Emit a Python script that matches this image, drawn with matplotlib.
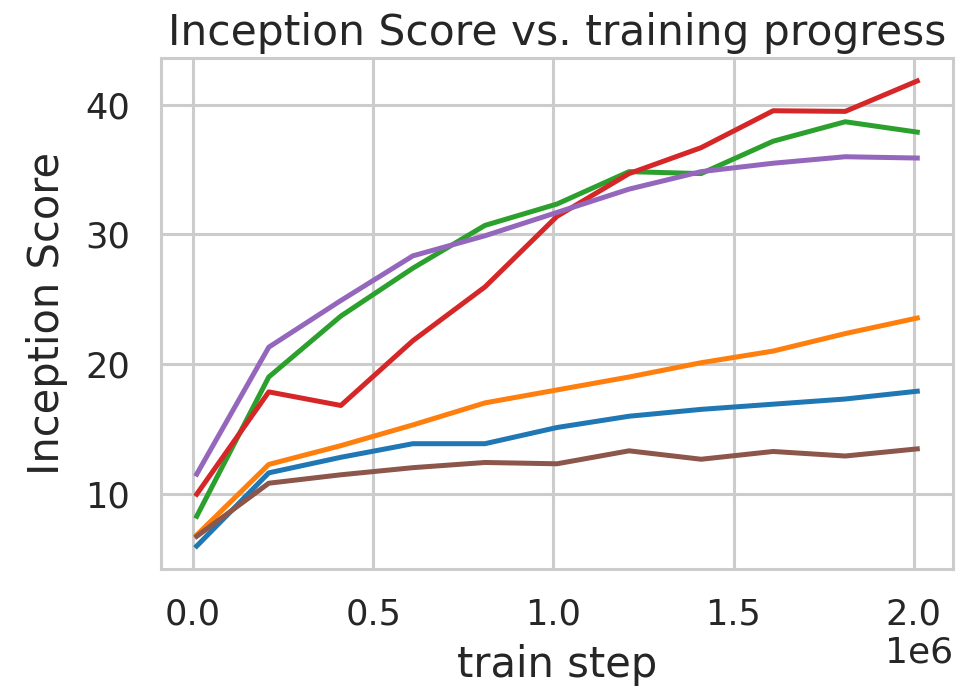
import matplotlib
matplotlib.use("Agg")
import matplotlib.pyplot as plt

# train steps (x) and inception scores per run
steps = [10000, 210000, 410000, 610000, 810000, 1010000,
         1210000, 1410000, 1610000, 1810000, 2010000]
run_blue = [5.95, 11.6, 12.8, 13.85, 13.85, 15.1, 15.97, 16.5, 16.9, 17.3, 17.9]
run_orange = [6.8, 12.25, 13.7, 15.3, 17.0, 18.0, 19.0, 20.1, 21.0, 22.35, 23.55]
run_green = [8.25, 19.0, 23.7, 27.4, 30.7, 32.35, 34.85, 34.7, 37.2, 38.7, 37.9]
run_red = [9.95, 17.85, 16.8, 21.8, 25.95, 31.4, 34.7, 36.7, 39.55, 39.5, 41.85]
run_purple = [11.5, 21.3, 24.9, 28.35, 29.9, 31.7, 33.5, 34.85, 35.5, 36.0, 35.9]
run_brown = [6.7, 10.8, 11.45, 12.0, 12.4, 12.3, 13.3, 12.65, 13.25, 12.9, 13.45]

# roughly seaborn "whitegrid", scaled up
text_col = "#262626"
plt.rcParams.update({
    "font.family": ["DejaVu Sans"],
    "font.size": 25.3,
    "text.color": text_col,
    "axes.labelcolor": text_col,
    "xtick.color": text_col,
    "ytick.color": text_col,
    "axes.edgecolor": "#cccccc",
    "axes.linewidth": 2.2,
    "grid.color": "#cccccc",
    "grid.linewidth": 2.2,
    "xtick.major.size": 0,
    "ytick.major.size": 0,
    "xtick.major.pad": 20,
    "ytick.major.pad": 22,
})

fig = plt.figure(figsize=(9.79, 6.87), dpi=100)
ax = fig.add_axes([160.7 / 979, 1 - 569.3 / 687, 792.6 / 979, 511.6 / 687])

for ys, c in [(run_blue, "#1f77b4"), (run_orange, "#ff7f0e"),
              (run_green, "#2ca02c"), (run_red, "#d62728"),
              (run_purple, "#9467bd"), (run_brown, "#8c564b")]:
    ax.plot(steps, ys, color=c, lw=3.6)

ax.grid(True)
ax.set_axisbelow(True)
ax.set_yticks([10, 20, 30, 40])
ax.tick_params(labelsize=25.3)
ax.xaxis.get_offset_text().set_fontsize(26)

ax.set_title("Inception Score vs. training progress", fontsize=30.5, pad=9)
ax.set_xlabel("train step", fontsize=30, labelpad=9)
ax.set_ylabel("Inception Score", fontsize=30, labelpad=12)

fig.savefig("out.png", dpi=100, facecolor="white")
